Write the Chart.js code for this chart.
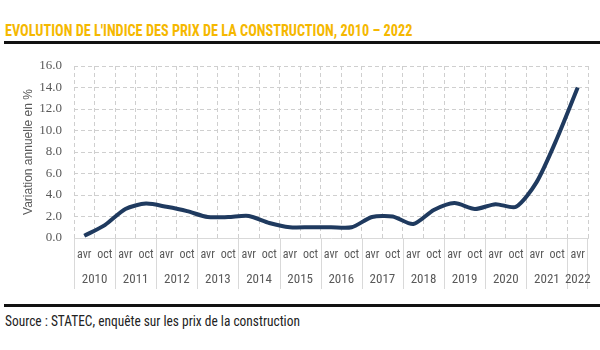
<!DOCTYPE html>
<html>
<head>
<meta charset="utf-8">
<script src="https://cdn.jsdelivr.net/npm/chart.js@4.4.0/dist/chart.umd.min.js"></script>
<style>
  body { margin: 0; width: 600px; height: 350px; background: #fff; overflow: hidden; position: relative; }
  #title { position: absolute; left: 5px; top: 20px; font: bold 17px 'Roboto Condensed', sans-serif; color: #f5b800; white-space: nowrap; transform-origin: left top; }
  .rule { position: absolute; left: 4px; right: 0; height: 3px; background: #111; }
  #chartBox { position: absolute; left: 0; top: 44px; width: 600px; height: 259px; }
  #source { position: absolute; left: 5px; top: 313px; font: 14px 'Roboto Condensed', sans-serif; color: #222; white-space: nowrap; transform-origin: left top; }
</style>
</head>
<body>
<div id="title">EVOLUTION DE L'INDICE DES PRIX DE LA CONSTRUCTION, 2010 – 2022</div>
<div class="rule" style="top:41px"></div>
<div id="chartBox"><canvas id="chart"></canvas></div>
<div class="rule" style="top:304px"></div>
<div id="source">Source : STATEC, enquête sur les prix de la construction</div>
<script>
// semester labels (avr / oct), one per data point
const periods = ['avr', 'oct', 'avr', 'oct', 'avr', 'oct', 'avr', 'oct', 'avr', 'oct',
                 'avr', 'oct', 'avr', 'oct', 'avr', 'oct', 'avr', 'oct', 'avr', 'oct',
                 'avr', 'oct', 'avr', 'oct', 'avr'];
// years shown under the semesters, with how many semesters each covers
const years = ['2010', '2011', '2012', '2013', '2014', '2015', '2016', '2017', '2018', '2019', '2020', '2021', '2022'];
const yearSpans = [2, 2, 2, 2, 2, 2, 2, 2, 2, 2, 2, 2, 1];
// annual variation in %
const variation = [0.2, 1.2, 2.7, 3.2, 2.9, 2.5, 1.95, 1.95, 2.05, 1.4,
                   1.0, 1.0, 1.0, 1.0, 1.95, 2.0, 1.3, 2.6, 3.25, 2.7,
                   3.15, 2.9, 5.2, 9.3, 14.0];
const yTicks = [0, 2, 4, 6, 8, 10, 12, 14, 16];

// squeeze header/footer text to the widths of the original
function fitWidth(id, target) {
    const el = document.getElementById(id);
    el.style.transform = 'scaleX(' + (target / el.scrollWidth) + ')';
}
fitWidth('title', 407);
fitWidth('source', 295);

const narrow = "'Roboto Condensed', sans-serif";
const grey = '#595959';

// year labels and separators below the semester labels
const yearAxis = {
    id: 'yearAxis',
    afterDraw(chart) {
        const x = chart.scales.x;
        const ctx = chart.ctx;
        const w = x.getPixelForValue(1) - x.getPixelForValue(0);
        const top = x.top;
        const bottom = top + 51;
        ctx.save();
        ctx.strokeStyle = '#d9d9d9';
        ctx.lineWidth = 1;
        ctx.fillStyle = grey;
        ctx.font = '13px ' + narrow;
        ctx.textAlign = 'center';
        ctx.textBaseline = 'middle';
        let start = 0;
        years.forEach((yr, i) => {
            const left = x.getPixelForValue(start) - w / 2;
            const right = x.getPixelForValue(start + yearSpans[i] - 1) + w / 2;
            ctx.beginPath();
            ctx.moveTo(Math.round(left) + 0.5, top);
            ctx.lineTo(Math.round(left) + 0.5, bottom);
            if (i === years.length - 1) {
                ctx.moveTo(Math.round(right) - 0.5, top);
                ctx.lineTo(Math.round(right) - 0.5, bottom);
            }
            ctx.stroke();
            ctx.fillText(yr, (left + right) / 2, top + 42);
            start += yearSpans[i];
        });
        ctx.restore();
    }
};

new Chart(document.getElementById('chart'), {
    type: 'line',
    data: {
        labels: periods,
        datasets: [{
            data: variation,
            borderColor: '#1f3a5f',
            borderWidth: 4,
            pointRadius: 0,
            tension: 0.25,
            fill: false
        }]
    },
    options: {
        responsive: true,
        maintainAspectRatio: false,
        animation: false,
        layout: { padding: { top: 22, right: 12, bottom: 0, left: 0 } },
        plugins: { legend: { display: false }, tooltip: { enabled: false } },
        scales: {
            x: {
                offset: true,
                grid: { offset: true, color: '#cfcfcf', drawTicks: false },
                border: { display: true, color: '#d9d9d9', dash: [4, 3] },
                ticks: { color: grey, font: { family: narrow, size: 12 }, padding: 10, maxRotation: 0, autoSkip: false },
                afterFit(scale) { scale.height = 65; }
            },
            y: {
                min: 0,
                max: 16,
                afterBuildTicks(scale) { scale.ticks = yTicks.map(v => ({ value: v })); },
                grid: { color: '#cfcfcf', drawTicks: false },
                border: { display: false, dash: [4, 3] },
                ticks: { color: grey, padding: 12, font: { family: "'Liberation Serif', serif", size: 13 },
                         callback: v => v.toFixed(1) },
                title: { display: true, text: 'Variation annuelle en %', color: grey,
                         font: { family: "'Liberation Sans', Arial, sans-serif", size: 12 }, padding: { top: 21, bottom: 0 } },
                afterFit(scale) { scale.width = 74; }
            }
        }
    },
    plugins: [yearAxis]
});
</script>
</body>
</html>
